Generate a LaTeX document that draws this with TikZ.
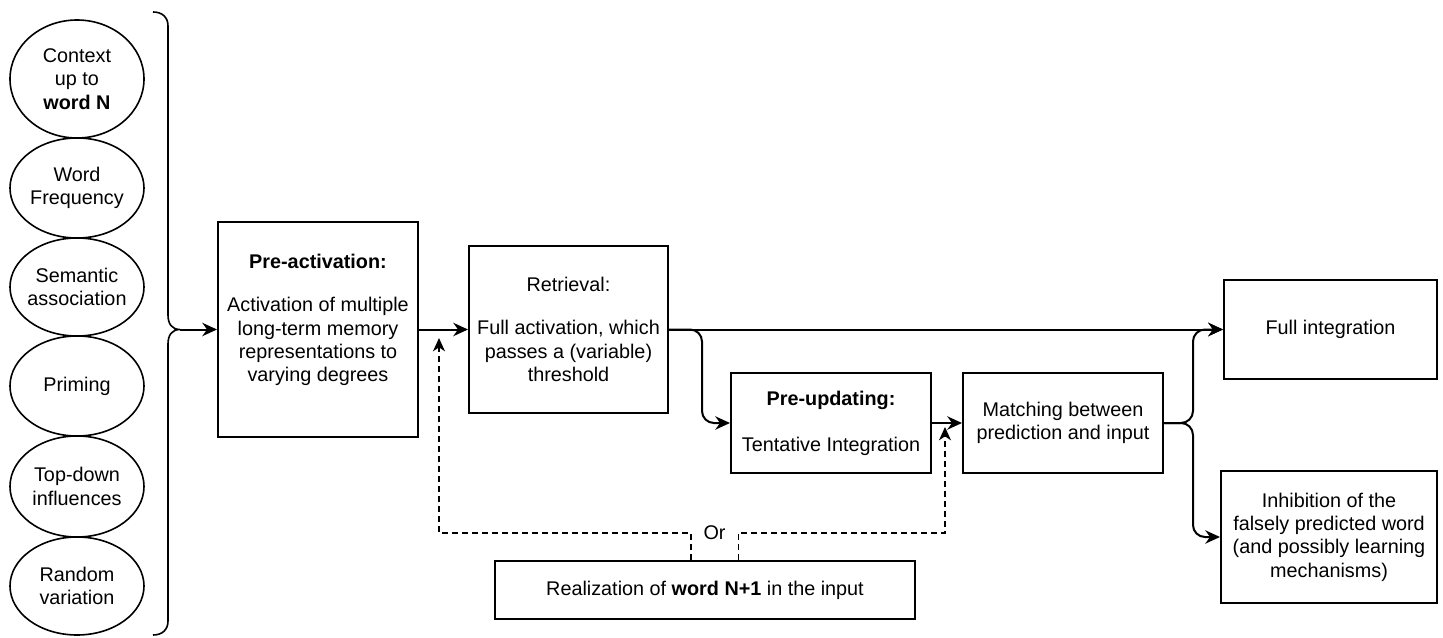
\documentclass[tikz,border=0pt]{standalone}
\usepackage{fontspec}
\setmainfont{Liberation Sans}
\usetikzlibrary{arrows.meta,shapes.geometric}

\begin{document}
\begin{tikzpicture}[x=0.75pt,y=0.75pt,yscale=-1,xscale=1,
  every node/.style={font=\fontsize{14.85pt}{17.5pt}\selectfont, align=center, inner sep=0pt},
  factor/.style={draw, ellipse, line width=1.2pt, inner sep=-3pt, minimum width=100.5pt},
  stage/.style={draw, rectangle, line width=1.5pt},
  flow/.style={line width=1.5pt, rounded corners=9pt, -{Stealth[length=11pt,width=10pt,inset=3.5pt]}},
  feed/.style={line width=1.2pt, dash pattern={on 4.5pt off 3pt}, -{Stealth[length=10pt,width=9pt,inset=3pt]}}
]
\useasboundingbox (0,0) rectangle (1443,638);

%Shape: Ellipse [factors]
\node[factor, minimum height=88.5pt] (ctx) at (77,79) {Context\\up to\\\textbf{word N}};
\node[factor, minimum height=75pt] (freq) at (77,188) {Word\\Frequency};
\node[factor, minimum height=73.5pt] (sem) at (77,287) {Semantic\\association};
\node[factor, minimum height=75pt] (prim) at (77,386) {Priming};
\node[factor, minimum height=75.75pt] (topd) at (77,486.5) {Top-down\\influences};
\node[factor, minimum height=73.5pt] (rand) at (77,586) {Random\\variation};

%Shape: Brace
\draw[line width=1.2pt] (153,12) .. controls (162,12) and (168,17) .. (168,26) -- (168,315) .. controls (168,324) and (172,329.5) .. (180,329.5) .. controls (172,329.5) and (168,335) .. (168,344) -- (168,621) .. controls (168,630) and (162,635) .. (153,635) ;
\coordinate (bracetip) at (180,329.5);

%Shape: Rectangle [stages]
\node[stage, minimum width=150pt, minimum height=161.25pt] (preact) at (318,329.5) {\textbf{Pre-activation:}\\[15pt]Activation of multiple\\long-term memory\\representations to\\varying degrees\\\mbox{}};
\node[stage, minimum width=149.25pt, minimum height=125.25pt] (retr) at (568.5,329.5) {Retrieval:\\[15pt]Full activation, which\\passes a (variable)\\threshold};
\node[stage, minimum width=150pt, minimum height=75pt] (preup) at (831,423) {\textbf{Pre-updating:}\\[17pt]Tentative Integration};
\node[stage, minimum width=150pt, minimum height=75pt] (match) at (1063,423) {Matching between\\prediction and input};
\node[stage, minimum width=159.75pt, minimum height=74.25pt] (full) at (1330.5,329.5) {Full integration};
\node[stage, minimum width=162pt, minimum height=99pt] (inhib) at (1329,537) {Inhibition of the\\falsely predicted word\\(and possibly learning\\mechanisms)};
\node[stage, minimum width=315pt, minimum height=43.5pt] (real) at (705,590) {Realization of \textbf{word N+1} in the input};
\node[inner xsep=9.4pt] (orlbl) at (714.5,533) {Or};

%Straight Lines [flow]
\draw[flow] (bracetip) -- (preact);
\draw[flow] (preact) -- (retr);
\draw[flow] (retr) -- (full);
\draw[flow] (retr.east) -- ++(33,0) |- (preup.west);
\draw[flow] (preup) -- (match);
\draw[flow] (match.east) -- ++(29,0) |- (full.west);
\draw[flow] (match.east) -- ++(29,0) |- (inhib.west);

%Straight Lines [feedback, dashed]
\coordinate (tipA) at (439,338);
\coordinate (tipB) at (945,427);
\draw[feed] (orlbl.west |- real.north) -- (orlbl.west) -| (tipA);
\draw[feed] (orlbl.east |- real.north) -- (orlbl.east) -| (tipB);

\end{tikzpicture}
\end{document}
